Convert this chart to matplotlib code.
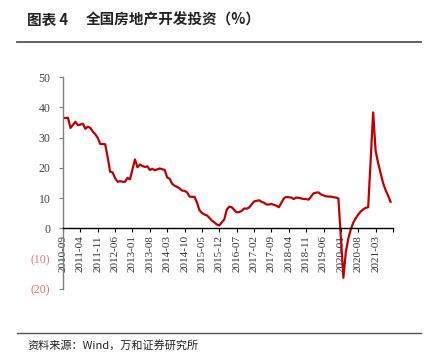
import matplotlib
matplotlib.use("Agg")
import matplotlib.pyplot as plt
from matplotlib.lines import Line2D

plt.rcParams['font.family'] = ['Noto Sans CJK SC', 'DejaVu Sans']

# Data: cumulative YoY growth of national real-estate development investment (%)
months = [
    "2010-09", "2010-10", "2010-11", "2010-12",
    "2011-02", "2011-03", "2011-04", "2011-05", "2011-06", "2011-07", "2011-08", "2011-09", "2011-10", "2011-11", "2011-12",
    "2012-02", "2012-03", "2012-04", "2012-05", "2012-06", "2012-07", "2012-08", "2012-09", "2012-10", "2012-11", "2012-12",
    "2013-02", "2013-03", "2013-04", "2013-05", "2013-06", "2013-07", "2013-08", "2013-09", "2013-10", "2013-11", "2013-12",
    "2014-02", "2014-03", "2014-04", "2014-05", "2014-06", "2014-07", "2014-08", "2014-09", "2014-10", "2014-11", "2014-12",
    "2015-02", "2015-03", "2015-04", "2015-05", "2015-06", "2015-07", "2015-08", "2015-09", "2015-10", "2015-11", "2015-12",
    "2016-02", "2016-03", "2016-04", "2016-05", "2016-06", "2016-07", "2016-08", "2016-09", "2016-10", "2016-11", "2016-12",
    "2017-02", "2017-03", "2017-04", "2017-05", "2017-06", "2017-07", "2017-08", "2017-09", "2017-10", "2017-11", "2017-12",
    "2018-02", "2018-03", "2018-04", "2018-05", "2018-06", "2018-07", "2018-08", "2018-09", "2018-10", "2018-11", "2018-12",
    "2019-02", "2019-03", "2019-04", "2019-05", "2019-06", "2019-07", "2019-08", "2019-09", "2019-10", "2019-11", "2019-12",
    "2020-02", "2020-03", "2020-04", "2020-05", "2020-06", "2020-07", "2020-08", "2020-09", "2020-10", "2020-11", "2020-12",
    "2021-02", "2021-03", "2021-04", "2021-05", "2021-06", "2021-07", "2021-08", "2021-09",
]
investment_yoy = [
    36.4, 36.5, 36.5, 33.2,
    35.2, 34.1, 34.3, 34.6, 32.9, 33.6, 33.2, 32.0, 31.1, 29.9, 27.9,
    27.8, 23.5, 18.7, 18.5, 16.6, 15.4, 15.6, 15.4, 15.4, 16.7, 16.2,
    22.8, 20.2, 21.1, 20.6, 20.3, 20.5, 19.3, 19.7, 19.2, 19.5, 19.8,
    19.3, 16.8, 16.4, 14.7, 14.1, 13.7, 13.2, 12.5, 12.4, 11.9, 10.5,
    10.4, 8.5, 6.0, 5.1, 4.6, 4.3, 3.5, 2.6, 2.0, 1.3, 1.0,
    3.0, 6.2, 7.2, 7.0, 6.1, 5.3, 5.4, 5.8, 6.6, 6.5, 6.9,
    8.9, 9.1, 9.3, 8.8, 8.5, 7.9, 7.9, 8.1, 7.8, 7.5, 7.0,
    9.9, 10.4, 10.3, 10.2, 9.7, 10.2, 10.1, 9.9, 9.7, 9.7, 9.5,
    11.6, 11.8, 11.9, 11.2, 10.9, 10.6, 10.5, 10.5, 10.3, 10.2, 9.9,
    -16.3, -7.7, -3.3, -0.3, 1.9, 3.4, 4.6, 5.6, 6.3, 6.8, 7.0,
    38.3, 25.6, 21.6, 18.3, 15.0, 12.7, 10.9, 8.8,
]
start_month = "2010-09"
end_month = "2021-10"
tick_step = 7
y_ticks = [-20, -10, 0, 10, 20, 30, 40, 50]
title_label = "图表 4"
title_text = "全国房地产开发投资（%）"
source_text = "资料来源：Wind，万和证券研究所"


def month_index(s):
    y, m = s.split("-")
    y0, m0 = start_month.split("-")
    return (int(y) - int(y0)) * 12 + (int(m) - int(m0))


def index_label(i):
    y0, m0 = start_month.split("-")
    total = int(y0) * 12 + int(m0) - 1 + i
    return f"{total // 12}-{total % 12 + 1:02d}"


x = [month_index(m) for m in months]
x_end = month_index(end_month)

W, H = 428, 355
fig = plt.figure(figsize=(W / 100, H / 100), dpi=100)

ax = fig.add_axes([63 / W, 1 - 289 / H, (393 - 63) / W, (289 - 77) / H])
for s in ["top", "right"]:
    ax.spines[s].set_visible(False)
ax.spines["bottom"].set_position(("data", 0))
ax.spines["bottom"].set_color("black")
ax.spines["bottom"].set_linewidth(1.0)
ax.spines["left"].set_color("#808080")
ax.spines["left"].set_linewidth(1.0)

ax.plot(x, investment_yoy, color="#C00000", lw=1.6, solid_joinstyle="round")

ax.set_xlim(0, x_end)
ax.set_ylim(-20, 50)

serif = "Liberation Serif"
ticks = list(range(0, x_end + 1, tick_step))
ax.set_xticks(ticks)
ax.set_xticklabels([index_label(t) if t < x_end - 3 else "" for t in ticks])
for lab in ax.get_xticklabels():
    lab.set_rotation(90)
    lab.set_fontsize(8)
    lab.set_family(serif)
    lab.set_color("#333333")
    lab.set_va("top")
    lab.set_ha("center")
ax.set_yticks(y_ticks)
ax.set_yticklabels([f"({abs(v)})" if v < 0 else f"{v}" for v in y_ticks])
for lab, v in zip(ax.get_yticklabels(), y_ticks):
    lab.set_fontsize(8.5)
    lab.set_family(serif)
    lab.set_color("#F07070" if v < 0 else "#444444")

ax.tick_params(axis="x", direction="out", length=3, width=0.8, color="black", pad=2)
ax.tick_params(axis="y", direction="out", length=3, width=0.8, color="#808080", pad=6)

# Title and rules
fig.text(27 / W, 1 - 20 / H, title_label, fontsize=10.5, fontweight="bold",
         va="center", ha="left", color="#222222")
fig.text(86 / W, 1 - 20 / H, title_text, fontsize=10.5, fontweight="bold",
         va="center", ha="left", color="#222222")
fig.add_artist(Line2D([17 / W, 421 / W], [1 - 42 / H, 1 - 42 / H],
                      transform=fig.transFigure, color="#555555", lw=1.3))
fig.add_artist(Line2D([17 / W, 421 / W], [1 - 333 / H, 1 - 333 / H],
                      transform=fig.transFigure, color="#555555", lw=1.0))
fig.text(27 / W, 1 - 345 / H, source_text, fontsize=8, va="center", ha="left",
         color="#222222")

fig.savefig("out.png", dpi=100)
